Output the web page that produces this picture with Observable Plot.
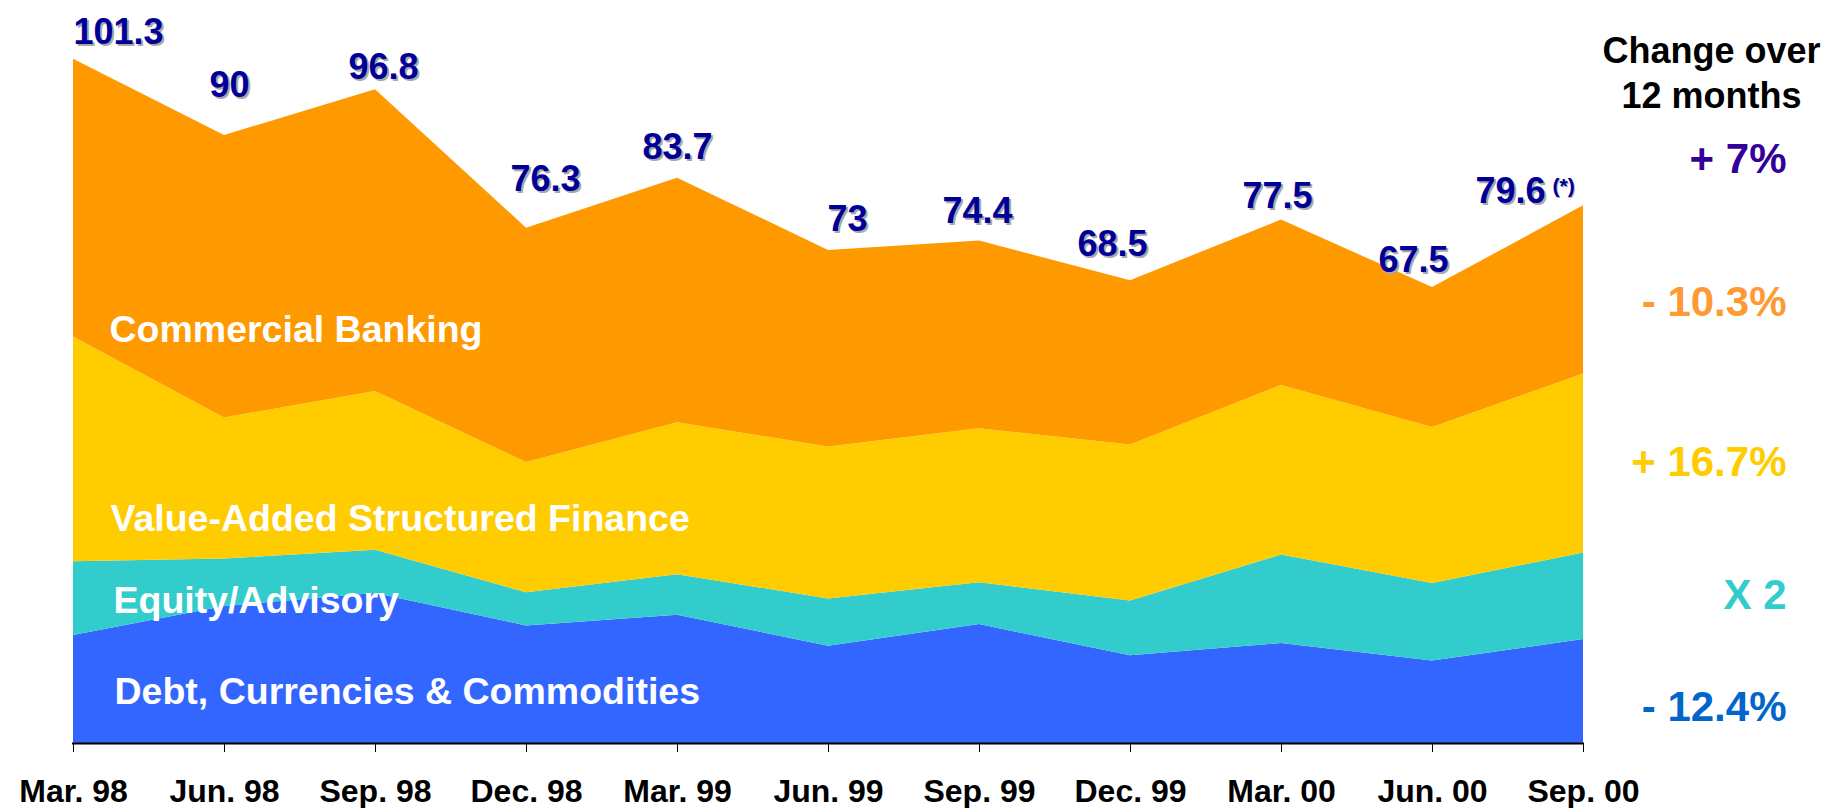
<!DOCTYPE html>
<html>
<head>
<meta charset="utf-8">
<script src="https://cdn.jsdelivr.net/npm/d3@7"></script>
<script src="https://cdn.jsdelivr.net/npm/@observablehq/plot@0.6"></script>
<style>
  html, body { margin: 0; padding: 0; background: #fff; }
  svg { display: block; }
</style>
</head>
<body>
<div id="chart"></div>
<script>
// ---- Data ----
const quarters = ["Mar. 98", "Jun. 98", "Sep. 98", "Dec. 98", "Mar. 99", "Jun. 99", "Sep. 99", "Dec. 99", "Mar. 00", "Jun. 00", "Sep. 00"];
const totals = [101.3, 90, 96.8, 76.3, 83.7, 73, 74.4, 68.5, 77.5, 67.5, 79.6];
const debtCurrenciesCommodities = [16.0, 20.3, 22.2, 17.4, 19.0, 14.4, 17.6, 13.0, 14.8, 12.2, 15.4];
const equityAdvisory = [10.9, 7.0, 6.4, 4.9, 6.0, 7.0, 6.2, 8.1, 13.1, 11.5, 12.8];
const valueAddedStructuredFinance = [33.3, 20.9, 23.5, 19.3, 22.5, 22.5, 22.8, 23.1, 25.1, 23.1, 26.5];
const commercialBanking = [41.1, 41.8, 44.7, 34.7, 36.2, 29.1, 27.8, 24.3, 24.5, 20.7, 24.9];
const seriesNames = ["Debt, Currencies & Commodities", "Equity/Advisory", "Value-Added Structured Finance", "Commercial Banking"];
const changeTitle = ["Change over", "12 months"];
const changeLabels = ["+ 7%", "- 10.3%", "+ 16.7%", "X 2", "- 12.4%"];
const footnoteMark = "(*)";

// ---- Styles / layout (not data) ----
const seriesColors = ["#3366FF", "#33CCCC", "#FFCC00", "#FF9900"];
const changeColors = ["#330099", "#FF9933", "#FFCC00", "#33CCCC", "#0066CC"];
const changeBaselines = [172, 315, 475, 608, 720];
const seriesLabelPos = [[42, 703], [41, 612], [38, 530], [37, 341]]; // dx from frame left, baseline
const labelDx = [45, 5, 8, 19, 0, 19, -2, -18, -4, -19, -73];
const labelDy = [-27, -50, -22, -49, -31, -31, -29, -36, -24, -27, -14];
const FONT = "'Liberation Sans', Arial, Helvetica, sans-serif";

const seriesArrays = [debtCurrenciesCommodities, equityAdvisory, valueAddedStructuredFinance, commercialBanking];
const rows = [];
seriesArrays.forEach((arr, s) => arr.forEach((v, i) => rows.push({quarter: quarters[i], series: seriesNames[s], value: v})));

const valueMarks = [];
totals.forEach((t, i) => {
  const common = {x: () => quarters[i], y: () => t, text: () => String(t), fontSize: 36, fontWeight: "bold", textAnchor: "middle", lineAnchor: "middle"};
  valueMarks.push(Plot.text([i], {...common, fill: "#a8a8a8", dx: labelDx[i] + 2, dy: labelDy[i] + 2}));
  valueMarks.push(Plot.text([i], {...common, fill: "#000099", dx: labelDx[i], dy: labelDy[i]}));
});
const last = totals.length - 1;
valueMarks.push(Plot.text([last], {x: () => quarters[last], y: () => totals[last], text: () => footnoteMark, fontSize: 21, fontWeight: "bold", textAnchor: "start", lineAnchor: "bottom", fill: "#a8a8a8", dx: -30, dy: -12}));
valueMarks.push(Plot.text([last], {x: () => quarters[last], y: () => totals[last], text: () => footnoteMark, fontSize: 21, fontWeight: "bold", textAnchor: "start", lineAnchor: "bottom", fill: "#000099", dx: -31, dy: -13}));

const seriesLabelMarks = seriesNames.map((name, s) => Plot.text([name], {
  text: d => d, frameAnchor: "top-left", dx: seriesLabelPos[s][0], dy: seriesLabelPos[s][1],
  textAnchor: "start", lineAnchor: "bottom", fontSize: 37.5, fontWeight: "bold", fill: "white"
}));

const changeMarks = changeLabels.map((lab, k) => Plot.text([lab], {
  text: d => d, frameAnchor: "top-right", dx: 202, dy: changeBaselines[k],
  textAnchor: "end", lineAnchor: "bottom", fontSize: 42, fontWeight: "bold", fill: changeColors[k]
}));
const titleMarks = changeTitle.map((t, k) => Plot.text([t], {
  text: d => d, frameAnchor: "top-right", dx: 127, dy: [62, 107][k],
  textAnchor: "middle", lineAnchor: "bottom", fontSize: 36, fontWeight: "bold", fill: "black"
}));

const chart = Plot.plot({
  width: 1827,
  height: 808,
  marginLeft: 72,
  marginRight: 243,
  marginTop: 0,
  marginBottom: 65,
  style: {fontFamily: FONT, fontWeight: "bold", background: "white", overflow: "visible"},
  x: {type: "point", domain: quarters, padding: 0, label: null},
  y: {domain: [0, 110], axis: null},
  color: {domain: seriesNames, range: seriesColors},
  marks: [
    Plot.areaY(rows, {x: "quarter", y: "value", fill: "series", order: seriesNames, curve: "linear"}),
    Plot.ruleY([0], {stroke: "black", strokeWidth: 2}),
    Plot.axisX({tickSize: 9, tickPadding: 27, fontSize: 32, fontWeight: "bold", fill: "black", stroke: "black", label: null}),
    ...seriesLabelMarks,
    ...valueMarks,
    ...titleMarks,
    ...changeMarks
  ]
});
document.getElementById("chart").appendChild(chart);
</script>
</body>
</html>
